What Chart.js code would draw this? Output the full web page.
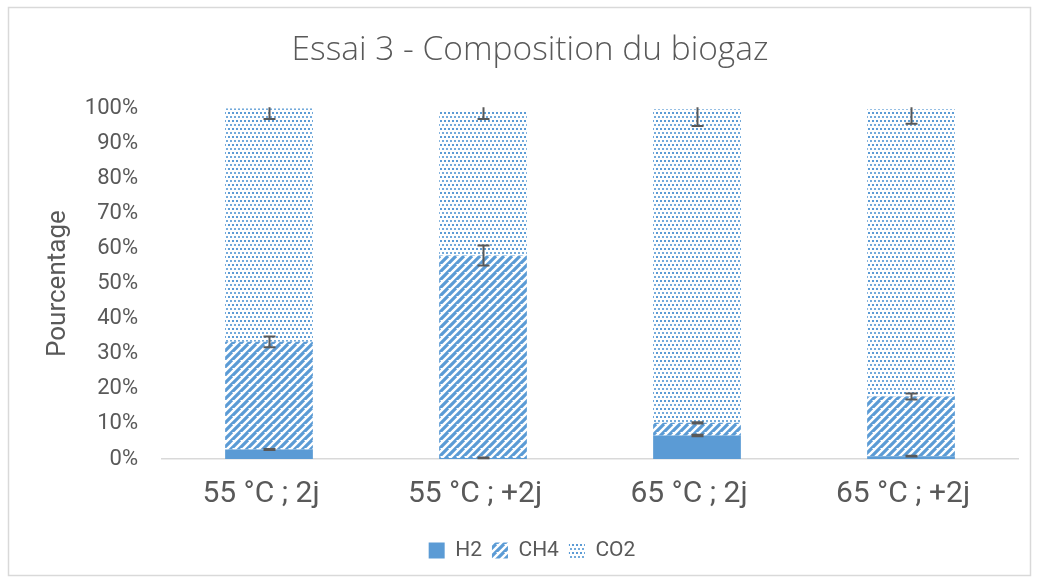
<!DOCTYPE html>
<html>
<head>
<meta charset="utf-8">
<script src="https://cdn.jsdelivr.net/npm/chart.js@4"></script>
<style>
  html, body { margin: 0; padding: 0; background: #fff; }
  #wrap { width: 1039px; height: 583px; }
</style>
</head>
<body>
<div id="wrap"><canvas id="biogazChart" width="1039" height="583"></canvas></div>
<script>
// --- Data ---
const categories = ['55 °C ; 2j', '55 °C ; +2j', '65 °C ; 2j', '65 °C ; +2j'];
const h2Values = [2.7, 0.3, 6.7, 0.8];
const ch4Values = [30.7, 57.7, 3.6, 17.0];
const co2Values = [66.6, 40.9, 89.4, 81.9];
const h2Errors = [0.15, 0.1, 0.2, 0.1];
const ch4Errors = [1.55, 2.85, 0.2, 0.85];
const co2Errors = [3.1, 2.0, 4.8, 4.1];

const BLUE = '#5B9BD5';
const TEXT = '#595959';

// --- Fill patterns (Excel "wide upward diagonal" and "dotted") ---
function makeStripes() {
    const c = document.createElement('canvas');
    c.width = 8; c.height = 8;
    const g = c.getContext('2d');
    g.fillStyle = '#fff';
    g.fillRect(0, 0, 8, 8);
    g.strokeStyle = BLUE;
    g.lineWidth = 3.2;
    g.beginPath();
    for (let k = -8; k <= 16; k += 8) {
        g.moveTo(k - 8, 16);
        g.lineTo(k + 8, 0);
    }
    g.stroke();
    return g.createPattern(c, 'repeat');
}

function makeDots() {
    const c = document.createElement('canvas');
    c.width = 4; c.height = 8;
    const g = c.getContext('2d');
    g.fillStyle = '#fff';
    g.fillRect(0, 0, 4, 8);
    g.fillStyle = BLUE;
    g.fillRect(0, 0, 2, 2);
    g.globalAlpha = 0.85;
    g.fillRect(2, 4, 2, 2);
    return g.createPattern(c, 'repeat');
}

const stripes = makeStripes();
const dots = makeDots();

const LEGEND_SHIFT = 18;
const TITLE_SHIFT = 16;

// --- Plugins: chart frame and error bars ---
const framePlugin = {
    id: 'frame',
    beforeDraw(chart) {
        const ctx = chart.ctx;
        ctx.save();
        ctx.fillStyle = '#fff';
        ctx.fillRect(0, 0, chart.width, chart.height);
        ctx.strokeStyle = '#d9d9d9';
        ctx.lineWidth = 1.5;
        ctx.strokeRect(8.5, 7.5, chart.width - 17, chart.height - 15);
        ctx.restore();
        // nudge legend and title so they sit where Excel put them
        if (chart.legend) {
            chart.legend.left += LEGEND_SHIFT;
            chart.legend.right += LEGEND_SHIFT;
        }
        if (chart.titleBlock) {
            chart.titleBlock.left += TITLE_SHIFT;
            chart.titleBlock.right += TITLE_SHIFT;
        }
    },
    afterDraw(chart) {
        if (chart.legend) {
            chart.legend.left -= LEGEND_SHIFT;
            chart.legend.right -= LEGEND_SHIFT;
        }
        if (chart.titleBlock) {
            chart.titleBlock.left -= TITLE_SHIFT;
            chart.titleBlock.right -= TITLE_SHIFT;
        }
    }
};

const errorBarPlugin = {
    id: 'errorBars',
    afterDatasetsDraw(chart) {
        const ctx = chart.ctx;
        const yScale = chart.scales.y;
        const area = chart.chartArea;
        ctx.save();
        ctx.beginPath();
        ctx.rect(area.left, area.top - 1, area.right - area.left, area.bottom - area.top + 2);
        ctx.clip();
        ctx.strokeStyle = TEXT;
        ctx.lineWidth = 2;
        chart.data.datasets.forEach((ds, di) => {
            if (!ds.errors) return;
            const meta = chart.getDatasetMeta(di);
            meta.data.forEach((bar, i) => {
                let top = 0;
                for (let k = 0; k <= di; k++) top += chart.data.datasets[k].data[i];
                const err = ds.errors[i];
                const yHi = yScale.getPixelForValue(top + err);
                const yLo = yScale.getPixelForValue(top - err);
                const x = Math.round(bar.x) + 0.5;
                ctx.beginPath();
                ctx.moveTo(x, yHi);
                ctx.lineTo(x, yLo);
                ctx.moveTo(x - 6, yHi);
                ctx.lineTo(x + 6, yHi);
                ctx.moveTo(x - 6, yLo);
                ctx.lineTo(x + 6, yLo);
                ctx.stroke();
            });
        });
        ctx.restore();
    }
};

const ctx = document.getElementById('biogazChart').getContext('2d');
new Chart(ctx, {
    type: 'bar',
    data: {
        labels: categories,
        datasets: [
            { label: 'H2', data: h2Values, errors: h2Errors, backgroundColor: BLUE, borderColor: BLUE, borderWidth: 0 },
            { label: 'CH4', data: ch4Values, errors: ch4Errors, backgroundColor: stripes, borderWidth: 0 },
            { label: 'CO2', data: co2Values, errors: co2Errors, backgroundColor: dots, borderWidth: 0 }
        ]
    },
    options: {
        responsive: false,
        animation: false,
        layout: { padding: { left: 10, right: 21, top: 20, bottom: 12 } },
        datasets: { bar: { barPercentage: 0.41, categoryPercentage: 1 } },
        scales: {
            x: {
                stacked: true,
                grid: { display: false, drawTicks: false },
                border: { display: true, color: '#d9d9d9', width: 1.5 },
                ticks: { color: TEXT, padding: 17, labelOffset: -8, font: { family: 'Roboto', size: 30 } },
                afterFit: (s) => { s.height = 71; }
            },
            y: {
                stacked: true,
                min: 0,
                max: 100,
                grid: { display: false, drawTicks: false },
                border: { display: false },
                ticks: {
                    stepSize: 10,
                    color: TEXT,
                    padding: 24,
                    font: { family: 'Roboto', size: 22 },
                    callback: (v) => v + '%'
                },
                title: {
                    display: true,
                    text: 'Pourcentage',
                    color: TEXT,
                    padding: { top: 33, bottom: 0 },
                    font: { family: 'Roboto', size: 26 }
                },
                afterFit: (s) => { s.width = 152; }
            }
        },
        plugins: {
            title: {
                display: true,
                text: 'Essai 3 - Composition du biogaz',
                color: TEXT,
                padding: { top: 10, bottom: 38 },
                font: { family: 'Open Sans', size: 33.5, weight: '300' }
            },
            legend: {
                position: 'bottom',
                labels: {
                    color: TEXT,
                    boxWidth: 16,
                    boxHeight: 16,
                    padding: 10,
                    font: { family: 'Roboto', size: 21 }
                }
            },
            tooltip: { enabled: false }
        }
    },
    plugins: [framePlugin, errorBarPlugin]
});
</script>
</body>
</html>
